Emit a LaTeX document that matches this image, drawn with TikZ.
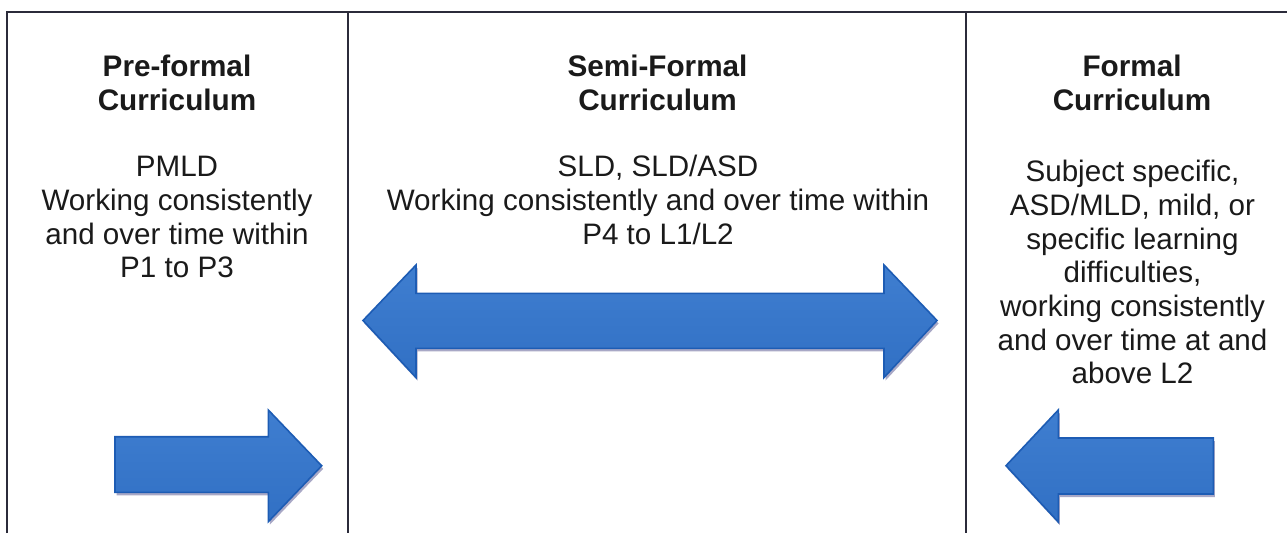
\documentclass[tikz,border=0pt]{standalone}
\usepackage{fontspec}
\setmainfont{Liberation Sans}
\begin{document}
\definecolor{framecol}{HTML}{2B2B3A}
\definecolor{textcol}{HTML}{1A1A1A}
\definecolor{arrowedge}{HTML}{1D5CB4}
\definecolor{arrowtop}{HTML}{3F7ED0}
\definecolor{arrowmid}{HTML}{5C98E0}
\definecolor{arrowbot}{HTML}{3170C4}
\definecolor{arrowshade}{HTML}{A8A8C6}
\begin{tikzpicture}[x=1pt,y=-1pt,
  frameline/.style={draw=framecol, line width=1.6pt},
  heading/.style={font=\fontsize{29.7}{34}\selectfont\bfseries, text=textcol,
    align=center, inner sep=0pt, anchor=base},
  body/.style={font=\fontsize{29.6}{33.7}\selectfont, text=textcol,
    align=center, inner sep=0pt, anchor=base},
  blockarrow/.style={draw=arrowedge, line width=1.6pt, line join=miter,
    top color=arrowtop, middle color=arrowmid, bottom color=arrowbot},
  arrowshadow/.style={fill=arrowshade, draw=none, shift={(1.5,3)}}]
  \useasboundingbox[fill=white] (0,0) rectangle (1287,533);

  % frame: top rule, outer left edge and the two column dividers
  \coordinate (tl) at (7,12);
  \coordinate (tr) at (1287,12);
  \coordinate (bl) at (7,533);
  \coordinate (d1t) at (348,12);
  \coordinate (d1b) at (348,533);
  \coordinate (d2t) at (966,12);
  \coordinate (d2b) at (966,533);
  \draw[frameline] (bl) -- (tl) -- (tr);
  \draw[frameline] (d1t) -- (d1b);
  \draw[frameline] (d2t) -- (d2b);

  % column headings (anchored at the baseline of their last line)
  \node[heading] (h1) at (177,110) {Pre-formal\\Curriculum};
  \node[heading] (h2) at (657.5,110) {Semi-Formal\\Curriculum};
  \node[heading] (h3) at (1132,110) {Formal\\Curriculum};

  % column descriptions
  \node[body] (b1) at (177,277.8)
    {PMLD\\Working consistently\\and over time within\\P1 to P3};
  \node[body] (b2) at (658,244.1)
    {SLD, SLD/ASD\\Working consistently and over time within\\P4 to L1/L2};
  \node[body] (b3) at (1132.5,383.9)
    {Subject specific,\\ASD/MLD, mild, or\\specific learning\\difficulties,\\working consistently\\and over time at and\\above L2};

  % two-headed arrow across the middle column
  \def\dblarrow{(363,320.5) -- (416,265) -- (416,293.3) -- (884,293.3) -- (884,265)
    -- (937,320.5) -- (884,377.5) -- (884,348.3) -- (416,348.3) -- (416,377.5) -- cycle}
  \path[arrowshadow] \dblarrow;
  \path[blockarrow] \dblarrow;

  % arrow pointing right in the left column
  \def\rgtarrow{(115,436.7) -- (268.3,436.7) -- (268.3,410) -- (321.7,465.8)
    -- (268.3,521.7) -- (268.3,492.3) -- (115,492.3) -- cycle}
  \path[arrowshadow] \rgtarrow;
  \path[blockarrow] \rgtarrow;

  % arrow pointing left in the right column
  \def\lftarrow{(1006,465.7) -- (1058.3,410) -- (1058.3,438) -- (1213.3,438)
    -- (1213.3,494) -- (1058.3,494) -- (1058.3,522) -- cycle}
  \path[arrowshadow] \lftarrow;
  \path[blockarrow] \lftarrow;
\end{tikzpicture}
\end{document}
